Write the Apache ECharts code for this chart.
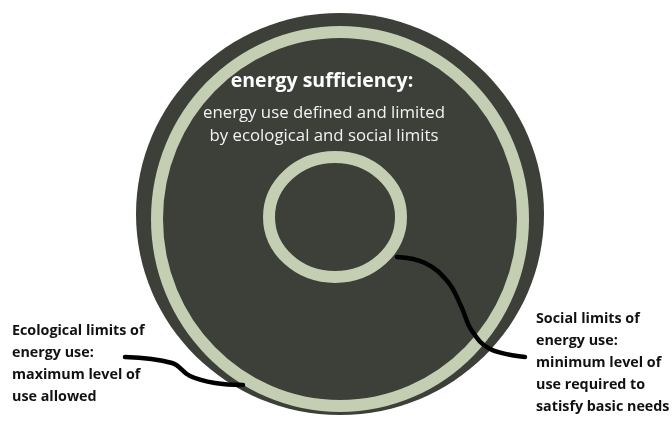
<!DOCTYPE html>
<html>
<head>
<meta charset="utf-8">
<script src="https://cdn.jsdelivr.net/npm/echarts@6/dist/echarts.min.js"></script>
<style>
  html, body { margin: 0; padding: 0; background: #fff; }
  #main { width: 672px; height: 421px; }
</style>
</head>
<body>
<div id="main"></div>
<script>
// circles of the diagram: [cx, cy, rx, ry] in picture units
var disk = [[340, 214, 204, 201]];
var outerRing = [[340, 219, 183, 187]];
var innerRing = [[335, 217, 66, 60]];

// connector curves
var ecoLine = [[125, 357], [172, 363], [190, 376], [215, 383], [243, 385]];
var socialLine = [[397, 257], [425, 263], [448, 282], [461, 306], [472, 331], [490, 349], [525, 357]];

var titleText = 'energy sufficiency:';
var subText = ['energy use defined and limited', 'by ecological and social limits'];
var ecoText = ['Ecological limits of', 'energy use:', 'maximum level of', 'use allowed'];
var socialText = ['Social limits of', 'energy use:', 'minimum level of', 'use required to', 'satisfy basic needs'];

var chart = echarts.init(document.getElementById('main'));

function ellipseItem(fill, stroke, width) {
  return function (params, api) {
    var c = api.coord([api.value(0), api.value(1)]);
    var s = api.size([api.value(2), api.value(3)]);
    return {
      type: 'ellipse',
      shape: { cx: c[0], cy: c[1], rx: s[0], ry: s[1] },
      style: { fill: fill, stroke: stroke, lineWidth: width }
    };
  };
}

var option = {
  backgroundColor: '#ffffff',
  animation: false,
  grid: { left: 0, right: 0, top: 0, bottom: 0 },
  xAxis: { type: 'value', min: 0, max: 672, show: false },
  yAxis: { type: 'value', min: 0, max: 421, inverse: true, show: false },
  series: [
    {
      type: 'custom',
      renderItem: ellipseItem('#3c4039', null, 0),
      data: disk,
      z: 1
    },
    {
      type: 'custom',
      renderItem: ellipseItem(null, '#c3ceb3', 12),
      data: outerRing,
      z: 2
    },
    {
      type: 'custom',
      renderItem: ellipseItem(null, '#c3ceb3', 12),
      data: innerRing,
      z: 2
    },
    {
      type: 'line',
      data: ecoLine,
      smooth: 0.4,
      showSymbol: false,
      lineStyle: { color: '#000', width: 4.5, cap: 'round' },
      z: 3
    },
    {
      type: 'line',
      data: socialLine,
      smooth: 0.4,
      showSymbol: false,
      lineStyle: { color: '#000', width: 4.5, cap: 'round' },
      z: 3
    }
  ],
  graphic: [
    {
      type: 'text', z: 10, x: 322, y: 71,
      style: {
        text: titleText, fill: '#fff',
        font: 'bold 19.5px "Open Sans"', textAlign: 'center'
      }
    },
    {
      type: 'text', z: 10, x: 324, y: 102,
      style: {
        text: subText.join('\n'), fill: '#f2f2f2',
        font: '16.8px "Open Sans"', lineHeight: 23, textAlign: 'center'
      }
    },
    {
      type: 'text', z: 10, x: 12, y: 320,
      style: {
        text: ecoText.join('\n'), fill: '#111',
        font: 'bold 14.3px "Open Sans"', lineHeight: 22
      }
    },
    {
      type: 'text', z: 10, x: 536, y: 308,
      style: {
        text: socialText.join('\n'), fill: '#111',
        font: 'bold 14.3px "Open Sans"', lineHeight: 22
      }
    }
  ]
};

chart.setOption(option);
</script>
</body>
</html>
